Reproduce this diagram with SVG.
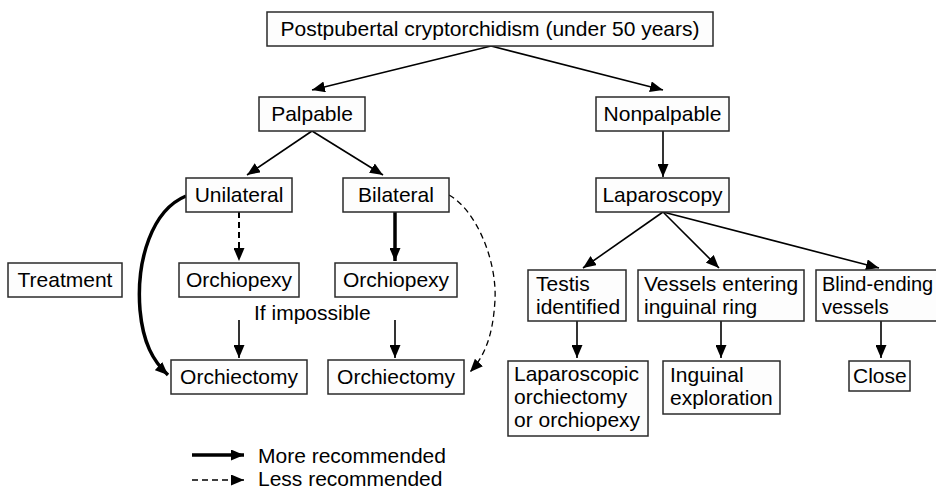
<svg xmlns="http://www.w3.org/2000/svg" width="936" height="491" viewBox="0 0 936 491">
<defs>
<marker id="ah" markerUnits="userSpaceOnUse" markerWidth="13" markerHeight="11" refX="13" refY="5.5" orient="auto" viewBox="0 0 13 11">
<path d="M0,0 L13,5.5 L0,11 z" fill="#000"/>
</marker>
</defs>
<style>
.box{fill:#fdfdfd;stroke:#2a2a2a;stroke-width:1.5}
text{font-family:"Liberation Sans",Arial,sans-serif;font-size:21px;fill:#000}
.c{text-anchor:middle}
.thin{fill:none;stroke:#000;stroke-width:1.6;marker-end:url(#ah)}
.thick{fill:none;stroke:#000;stroke-width:3.5;marker-end:url(#ah)}
.dash{fill:none;stroke:#000;stroke-width:2;stroke-dasharray:6,4;marker-end:url(#ah)}
.dashthin{fill:none;stroke:#000;stroke-width:1.3;stroke-dasharray:6,4;marker-end:url(#ah)}
</style>
<rect width="936" height="491" fill="#fff"/>
<g id="connectors">
<line class="thin" x1="491" y1="46" x2="312" y2="90"/>
<line class="thin" x1="491" y1="46" x2="663" y2="90"/>
<line class="thin" x1="312" y1="131" x2="247" y2="175"/>
<line class="thin" x1="312" y1="131" x2="383" y2="175"/>
<line class="thin" x1="663" y1="131" x2="663" y2="177"/>
<line class="thin" x1="663" y1="212" x2="583" y2="268"/>
<line class="thin" x1="663" y1="212" x2="719" y2="268"/>
<line class="thin" x1="663" y1="212" x2="879" y2="268"/>
<line class="thin" x1="577" y1="321" x2="577" y2="358"/>
<line class="thin" x1="721" y1="321" x2="721" y2="358"/>
<line class="thin" x1="881" y1="321" x2="881" y2="358"/>
<line class="dash" x1="239" y1="212" x2="239" y2="261"/>
<line class="thick" x1="395" y1="212" x2="395" y2="261"/>
<line class="thin" x1="239" y1="320" x2="239" y2="358"/>
<line class="thin" x1="395" y1="320" x2="395" y2="358"/>
<path class="thick" d="M186,196 C152,210 136,260 140,310 C143,343 153,361 168,375"/>
<path class="dashthin" d="M449,195 C476,210 497,260 495,300 C493,335 485,356 470,372"/>
<line class="thick" x1="192" y1="455" x2="244" y2="455"/>
<line class="dashthin" x1="192" y1="480" x2="244" y2="480" style="stroke-width:1.6"/>
</g>
<g id="n-top"><rect class="box" x="267" y="12" width="446" height="34"/><text class="c" x="490" y="36">Postpubertal cryptorchidism (under 50 years)</text></g>
<g id="n-palpable"><rect class="box" x="259" y="97" width="106" height="34"/><text class="c" x="312" y="121">Palpable</text></g>
<g id="n-nonpalpable"><rect class="box" x="596" y="97" width="133" height="34"/><text class="c" x="662.5" y="121">Nonpalpable</text></g>
<g id="n-unilateral"><rect class="box" x="186" y="178" width="106" height="34"/><text class="c" x="239" y="202">Unilateral</text></g>
<g id="n-bilateral"><rect class="box" x="343" y="178" width="106" height="34"/><text class="c" x="396" y="202">Bilateral</text></g>
<g id="n-laparoscopy"><rect class="box" x="596" y="178" width="133" height="34"/><text class="c" x="662.5" y="202">Laparoscopy</text></g>
<g id="n-treatment"><rect class="box" x="8" y="263" width="114" height="34"/><text class="c" x="65" y="287">Treatment</text></g>
<g id="n-orchiopexy1"><rect class="box" x="179" y="263" width="120" height="34"/><text class="c" x="239" y="287">Orchiopexy</text></g>
<g id="n-orchiopexy2"><rect class="box" x="335" y="263" width="122" height="34"/><text class="c" x="396" y="287">Orchiopexy</text></g>
<g id="l-impossible"><text x="254" y="320">If impossible</text></g>
<g id="n-orchiectomy1"><rect class="box" x="171" y="360" width="136" height="34"/><text class="c" x="239" y="384">Orchiectomy</text></g>
<g id="n-orchiectomy2"><rect class="box" x="328" y="360" width="136" height="34"/><text class="c" x="396" y="384">Orchiectomy</text></g>
<g id="n-testis"><rect class="box" x="528" y="270" width="98" height="51"/><text x="536" y="291">Testis</text><text x="536" y="314">identified</text></g>
<g id="n-vessels"><rect class="box" x="638" y="270" width="166" height="51"/><text x="644" y="291">Vessels entering</text><text x="644" y="314">inguinal ring</text></g>
<g id="n-blind"><rect class="box" x="816" y="270" width="130" height="51"/><text x="822" y="291" style="font-size:20px">Blind-ending</text><text x="822" y="314" style="font-size:20px">vessels</text></g>
<g id="n-lapo"><rect class="box" x="508" y="361" width="140" height="75"/><text x="514" y="381">Laparoscopic</text><text x="514" y="404">orchiectomy</text><text x="514" y="427">or orchiopexy</text></g>
<g id="n-inguinal"><rect class="box" x="663" y="361" width="117" height="53"/><text x="670" y="382">Inguinal</text><text x="670" y="405">exploration</text></g>
<g id="n-close"><rect class="box" x="849" y="361" width="61" height="30"/><text x="853" y="383">Close</text></g>
<g id="legend"><text x="258" y="463">More recommended</text><text x="258" y="486">Less recommended</text></g>
</svg>
